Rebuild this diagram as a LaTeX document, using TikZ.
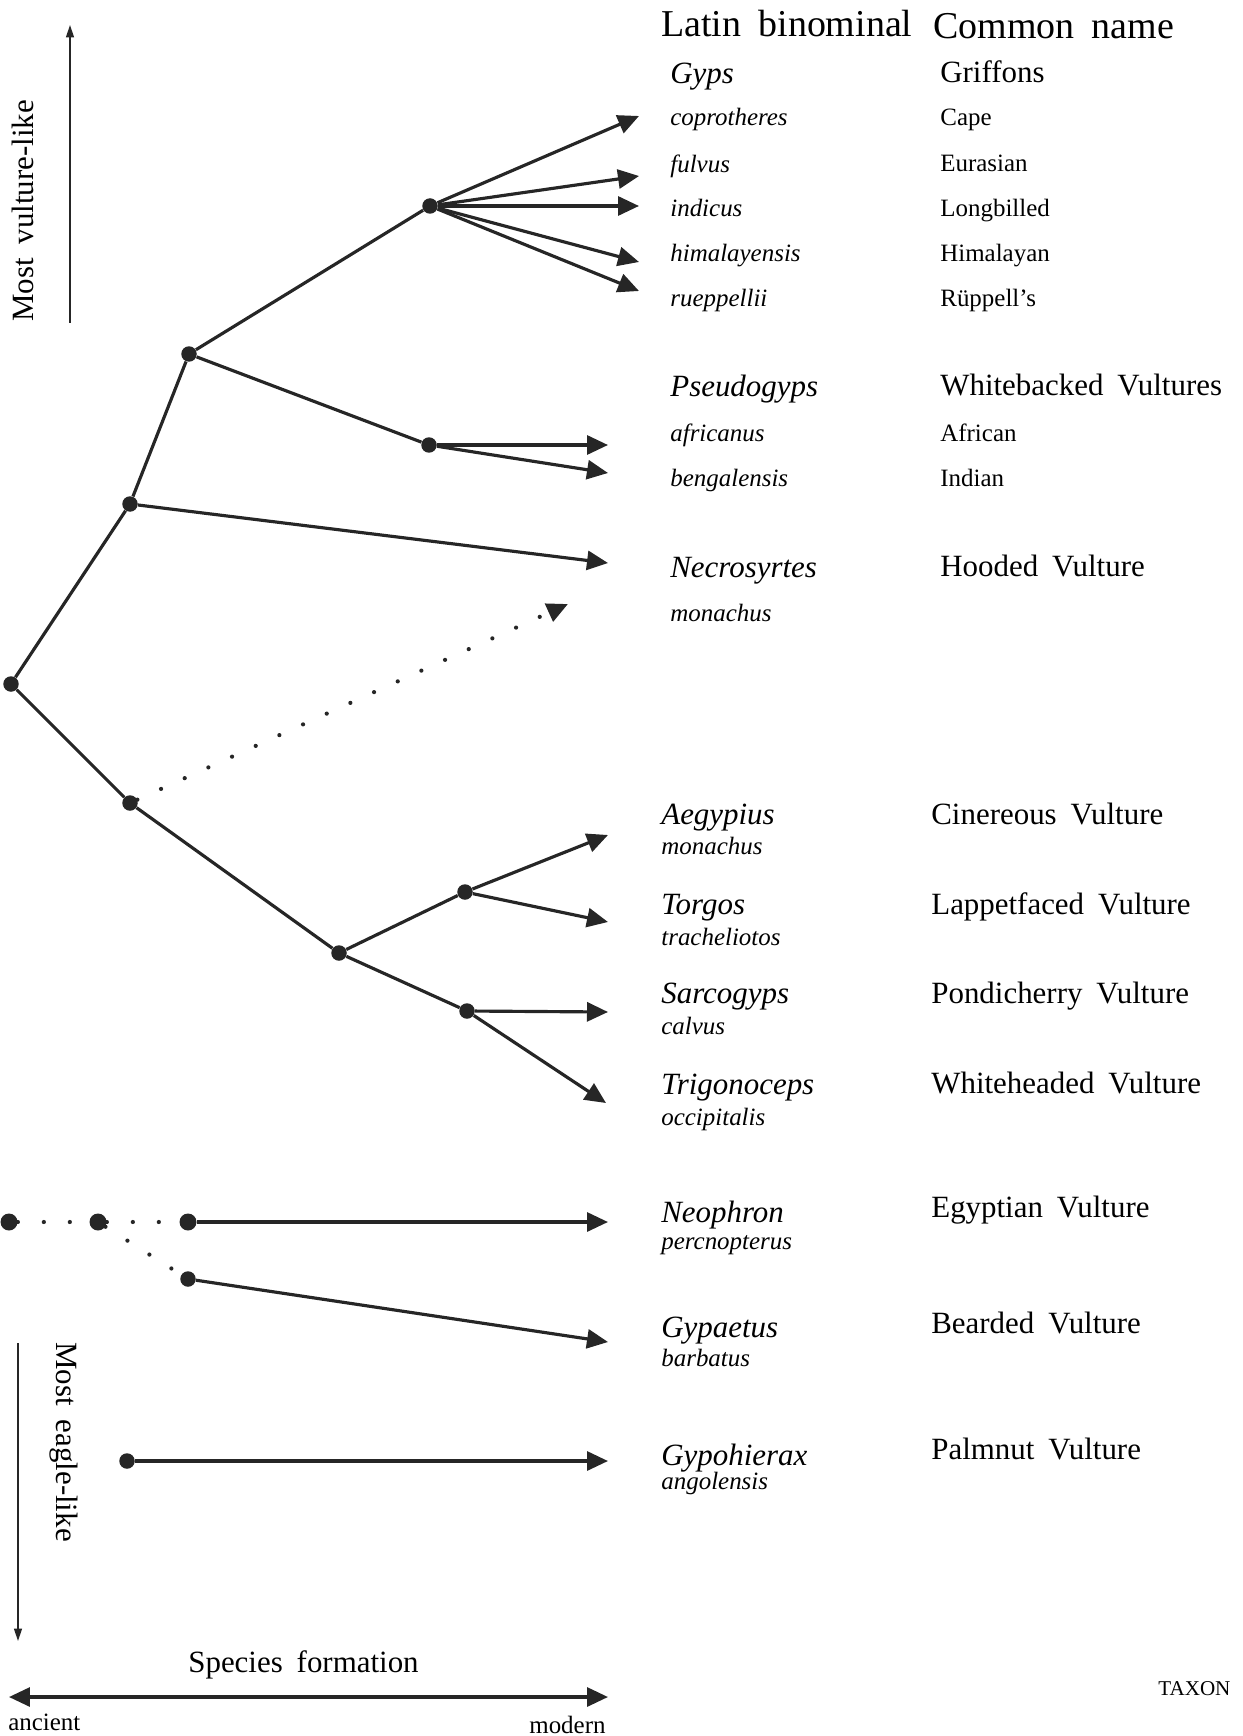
\documentclass[tikz,border=0pt]{standalone}
\usepackage{fontspec}
\setmainfont{Liberation Serif}
\usetikzlibrary{arrows.meta}
\newcommand\wsp{\hspace{0.45em}}
\begin{document}
\begin{tikzpicture}[x=0.02cm, y=-0.02cm,
  dot/.style={circle, fill=black!85, inner sep=0pt, minimum size=0.31cm},
  ln/.style={line width=1.8pt, black!85},
  arr/.style={ln, -{Triangle[length=0.42cm, width=0.38cm]}},
  dots/.style={line width=2.4pt, black!85, line cap=round, dash pattern=on 0pt off 0.52cm},
  hdr/.style={anchor=base west, inner sep=0pt, font=\fontsize{21.6}{24}\selectfont},
  genus/.style={anchor=base west, inner sep=0pt, font=\fontsize{17.6}{20}\selectfont\itshape},
  spec/.style={anchor=base west, inner sep=0pt, font=\fontsize{14.2}{16}\selectfont\itshape},
  cbig/.style={anchor=base west, inner sep=0pt, font=\fontsize{17.6}{20}\selectfont},
  csmall/.style={anchor=base west, inner sep=0pt, font=\fontsize{14.2}{16}\selectfont}]
\useasboundingbox (0,0) rectangle (1242,1736);
\node[dot] (root) at (11,684) {};
\node[dot] (upper) at (130,504) {};
\node[dot] (gypsclade) at (189,354) {};
\node[dot] (gyps) at (430,206) {};
\node[dot] (pseudo) at (429,445) {};
\node[dot] (lower) at (130,803) {};
\node[dot] (aegclade) at (339,953) {};
\node[dot] (aegtorg) at (465,892) {};
\node[dot] (sarctrig) at (467,1011) {};
\node[dot, minimum size=0.34cm] (neoa) at (9,1222) {};
\node[dot, minimum size=0.34cm] (neob) at (98,1222) {};
\node[dot, minimum size=0.34cm] (neoc) at (188,1222) {};
\node[dot] (gypa) at (188,1279) {};
\node[dot] (palm) at (127,1461) {};
\coordinate (tcop) at (639,116);
\coordinate (tful) at (639,176);
\coordinate (tind) at (639,206);
\coordinate (thim) at (639,262);
\coordinate (true) at (639,291);
\coordinate (tafr) at (608,445);
\coordinate (tben) at (608,473);
\coordinate (tnec) at (608,563);
\coordinate (tmon) at (568,604);
\coordinate (taeg) at (608,835);
\coordinate (ttor) at (608,922);
\coordinate (tsar) at (608,1012);
\coordinate (ttri) at (606,1103);
\coordinate (tneo) at (608,1222);
\coordinate (tgypa) at (608,1342);
\coordinate (tpalm) at (608,1461);
\draw[ln] (root) -- (upper) -- (gypsclade) -- (gyps);
\draw[ln] (gypsclade) -- (pseudo);
\draw[ln] (root) -- (lower) -- (aegclade) -- (aegtorg);
\draw[ln] (aegclade) -- (sarctrig);
\foreach \t in {tcop,tful,tind,thim,true} \draw[arr] (gyps) -- (\t);
\draw[arr] (pseudo) -- (tafr);
\draw[arr] (pseudo) -- (tben);
\draw[arr] (upper) -- (tnec);
\draw[dots, -{Triangle[length=0.42cm, width=0.38cm]}] (lower) -- (tmon);
\draw[arr] (aegtorg) -- (taeg);
\draw[arr] (aegtorg) -- (ttor);
\draw[arr] (sarctrig) -- (tsar);
\draw[arr] (sarctrig) -- (ttri);
\draw[dots] (neoa) -- (neob) -- (neoc);
\draw[dots] (neob) -- (gypa);
\draw[arr] (neoc) -- (tneo);
\draw[arr] (gypa) -- (tgypa);
\draw[arr] (palm) -- (tpalm);
% axes
\coordinate (vbot) at (70,323);
\coordinate (vtop) at (70,25);
\coordinate (ebot) at (18,1641);
\coordinate (etop) at (18,1343);
\coordinate (tleft) at (9,1697);
\coordinate (tright) at (608,1697);
\draw[line width=0.8pt, black!85, -{Triangle[length=0.25cm, width=0.16cm]}] (vbot) -- (vtop);
\draw[line width=0.8pt, black!85, -{Triangle[length=0.25cm, width=0.16cm]}] (etop) -- (ebot);
\draw[line width=1.8pt, black!85, {Triangle[length=0.42cm, width=0.38cm]}-{Triangle[length=0.42cm, width=0.38cm]}] (tleft) -- (tright);
\node[cbig, anchor=center, rotate=90] (vlike) at (23,211) {Most\wsp vulture-like};
\node[cbig, anchor=center, rotate=-90] (elike) at (64,1442) {Most\wsp eagle-like};
\node[cbig] (specform) at (188,1672) {Species\wsp formation};
\node[csmall] (ancient) at (8,1730) {ancient};
\node[csmall] (modern) at (529,1733) {modern};
\node[csmall, font=\fontsize{12}{14}\selectfont] (taxon) at (1158,1695) {TAXON};
% headings
\node[hdr] (hlatin) at (661,37) {Latin\wsp binominal};
\node[hdr] (hcommon) at (933,39) {Common\wsp name};
% Latin names
\node[genus] (lgyps) at (670,84) {Gyps};
\node[spec] (lcop) at (670,126) {coprotheres};
\node[spec] (lful) at (670,173) {fulvus};
\node[spec] (lind) at (670,217) {indicus};
\node[spec] (lhim) at (670,262) {himalayensis};
\node[spec] (lrue) at (670,307) {rueppellii};
\node[genus] (lpseudo) at (670,397) {Pseudogyps};
\node[spec] (lafr) at (670,441) {africanus};
\node[spec] (lben) at (670,486) {bengalensis};
\node[genus] (lnec) at (670,577) {Necrosyrtes};
\node[spec] (lnecm) at (670,621) {monachus};
\node[genus] (laeg) at (661,824) {Aegypius};
\node[spec] (laegm) at (661,854) {monachus};
\node[genus] (ltor) at (661,914) {Torgos};
\node[spec] (ltort) at (661,945) {tracheliotos};
\node[genus] (lsar) at (661,1003) {Sarcogyps};
\node[spec] (lsarc) at (661,1034) {calvus};
\node[genus] (ltri) at (661,1094) {Trigonoceps};
\node[spec] (ltrio) at (661,1125) {occipitalis};
\node[genus] (lneo) at (661,1222) {Neophron};
\node[spec] (lneop) at (661,1249) {percnopterus};
\node[genus] (lgypa) at (661,1337) {Gypaetus};
\node[spec] (lgypab) at (661,1366) {barbatus};
\node[genus] (lpalm) at (661,1465) {Gypohierax};
\node[spec] (lpalma) at (661,1489) {angolensis};
% common names
\node[cbig] (cgrif) at (940,83) {Griffons};
\node[csmall] (ccape) at (940,126) {Cape};
\node[csmall] (ceur) at (940,172) {Eurasian};
\node[csmall] (clong) at (940,217) {Longbilled};
\node[csmall] (chim) at (940,262) {Himalayan};
\node[csmall] (crue) at (940,307) {Rüppell’s};
\node[cbig] (cwhite) at (940,396) {Whitebacked\wsp Vultures};
\node[csmall] (cafr) at (940,441) {African};
\node[csmall] (cind) at (940,486) {Indian};
\node[cbig] (chood) at (940,576) {Hooded\wsp Vulture};
\node[cbig] (ccin) at (931,824) {Cinereous\wsp Vulture};
\node[cbig] (clap) at (931,914) {Lappetfaced\wsp Vulture};
\node[cbig] (cpond) at (931,1003) {Pondicherry\wsp Vulture};
\node[cbig] (cwhh) at (931,1093) {Whiteheaded\wsp Vulture};
\node[cbig] (cegy) at (931,1217) {Egyptian\wsp Vulture};
\node[cbig] (cbea) at (931,1333) {Bearded\wsp Vulture};
\node[cbig] (cpalm) at (931,1459) {Palmnut\wsp Vulture};
\end{tikzpicture}
\end{document}
